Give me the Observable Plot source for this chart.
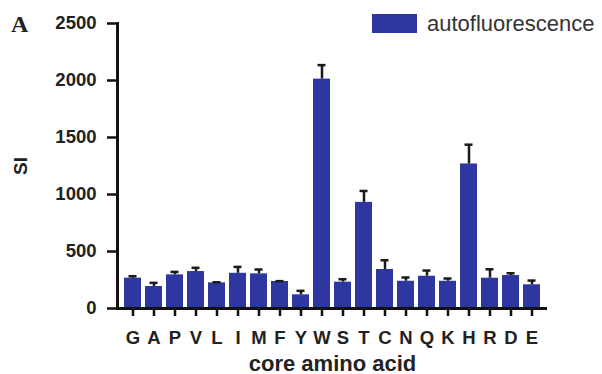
<!DOCTYPE html>
<html>
<head>
<meta charset="utf-8">
<script src="https://cdn.jsdelivr.net/npm/d3@7"></script>
<script src="https://cdn.jsdelivr.net/npm/@observablehq/plot@0.6"></script>
<style>
  html, body { margin: 0; padding: 0; background: #fff; }
  #wrap { position: relative; width: 602px; height: 374px; font-family: "Liberation Sans", Arial, sans-serif; }
  #panel { position: absolute; left: 11px; top: 12px; font-family: "Liberation Serif", "DejaVu Serif", serif; font-weight: bold; font-size: 24px; line-height: 1; color: #222; }
  #legend { position: absolute; left: 372px; top: 13px; display: flex; align-items: flex-start; }
  #legend .sw { width: 45px; height: 19px; margin-top: 1px; }
  #legend .lb { margin-left: 10px; font-size: 22px; line-height: 1; color: #333; }
  svg [aria-label="y-axis tick label"] text, svg [aria-label="x-axis tick label"] text { font-size: 18.5px; font-weight: bold; fill: #222; }
  svg [aria-label="y-axis label"] text { font-size: 19px; font-weight: bold; fill: #222; }
  svg [aria-label="x-axis label"] text { font-size: 22px; font-weight: bold; fill: #222; }
</style>
</head>
<body>
<div id="wrap">
  <div id="chart"></div>
  <div id="panel">A</div>
  <div id="legend"><div class="sw"></div><div class="lb"></div></div>
</div>
<script>
const categories = ["G","A","P","V","L","I","M","F","Y","W","S","T","C","N","Q","K","H","R","D","E"];
const values = [266,193,295,324,225,309,304,237,120,2012,231,931,342,239,283,239,1268,266,289,208];
const errors = [17,32,26,33,5,56,38,3,35,123,26,100,81,33,50,24,169,78,20,37];
const yTicks = [0,500,1000,1500,2000,2500];
const seriesName = "autofluorescence";
const xLabel = "core amino acid";
const yLabel = "SI";
const barColor = "#2e379f";

const data = categories.map((c, i) => ({aa: c, v: values[i], e: errors[i]}));

document.querySelector("#legend .sw").style.background = barColor;
document.querySelector("#legend .lb").textContent = seriesName;

const chart = Plot.plot({
  width: 602,
  height: 374,
  marginLeft: 117,
  marginRight: 55,
  marginTop: 23,
  marginBottom: 66,
  style: {fontFamily: "'Liberation Sans', Arial, sans-serif", fontSize: "18px", background: "transparent", color: "#222"},
  x: {domain: categories, paddingInner: 0.18, paddingOuter: 0.05, label: null},
  y: {domain: [0, 2500], label: null},
  marks: [
    Plot.barY(data, {x: "aa", y: "v", fill: barColor}),
    Plot.ruleX(data, {x: "aa", y1: "v", y2: d => d.v + d.e, stroke: "#1a1a1a", strokeWidth: 2.5}),
    Plot.tickY(data, {x: "aa", y: d => d.v + d.e, stroke: "#1a1a1a", strokeWidth: 2.5, insetLeft: 4.5, insetRight: 4.5}),
    Plot.axisY({ticks: yTicks, tickFormat: d3.format("d"), tickSize: 10, tickPadding: 11, strokeWidth: 2.5, stroke: "#111", label: yLabel, labelArrow: "none", labelAnchor: "center", labelOffset: 104}),
    Plot.axisX({tickSize: 8, tickPadding: 14, strokeWidth: 2.5, stroke: "#111", label: xLabel, labelArrow: "none", labelAnchor: "center", labelOffset: 62}),
    Plot.ruleY([0], {stroke: "#111", strokeWidth: 3}),
    Plot.frame({anchor: "left", stroke: "#111", strokeWidth: 3})
  ]
});
document.getElementById("chart").append(chart);
</script>
</body>
</html>
